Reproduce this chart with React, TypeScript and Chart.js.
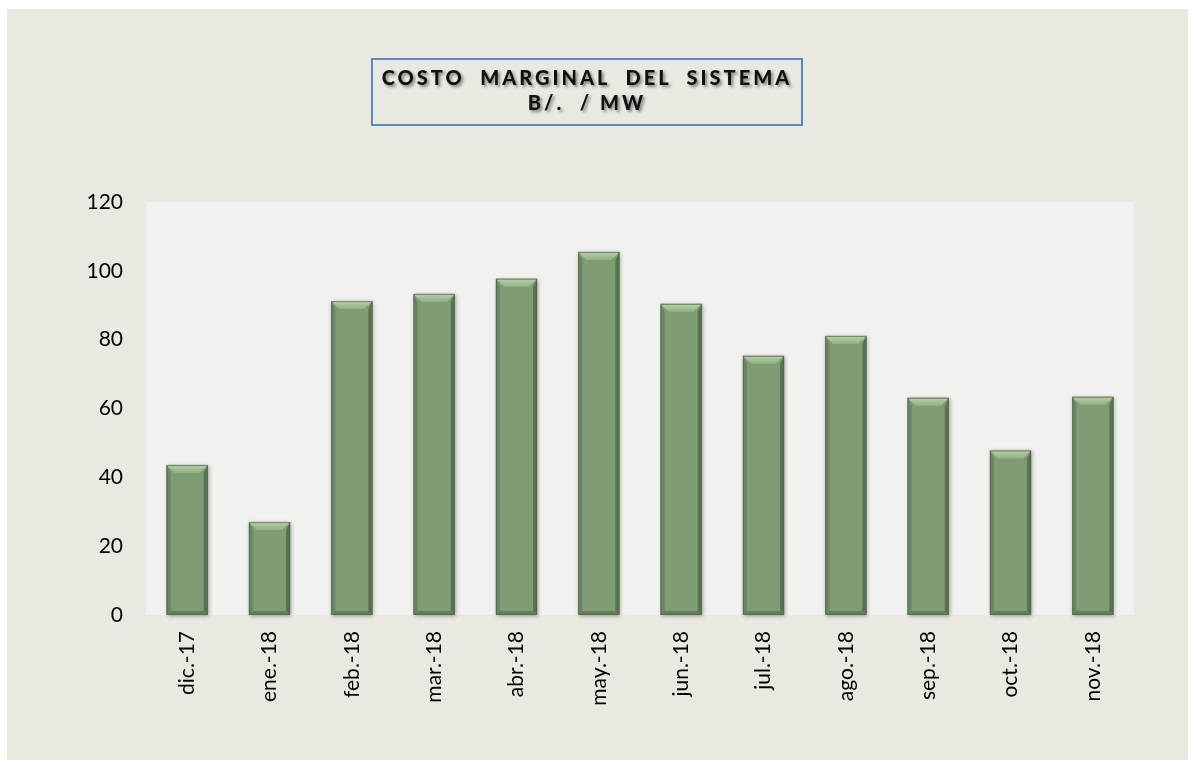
import React, { useEffect, useRef } from "react";
import { Chart, registerables } from "chart.js";

Chart.register(...registerables);

const categories = ["dic.-17", "ene.-18", "feb.-18", "mar.-18", "abr.-18", "may.-18", "jun.-18", "jul.-18", "ago.-18", "sep.-18", "oct.-18", "nov.-18"];
const costoMarginal = [43.6, 27.0, 91.2, 93.3, 97.7, 105.5, 90.4, 75.3, 81.1, 63.1, 47.8, 63.4];
const titleLines = ["COSTO  MARGINAL  DEL  SISTEMA", "B/.  / MW"];
const yMax = 120;
const yStep = 20;

const FONT = "Lato, 'Open Sans', sans-serif";

const plotBgPlugin = {
  id: "plotBg",
  beforeDraw(chart: any) {
    const { ctx, chartArea } = chart;
    ctx.save();
    ctx.fillStyle = "#F1F1F0";
    ctx.fillRect(chartArea.left, chartArea.top, chartArea.right - chartArea.left, chartArea.bottom - chartArea.top);
    ctx.restore();
  },
};

const bevelPlugin = {
  id: "bevel",
  beforeDatasetsDraw(chart: any) {
    const { ctx } = chart;
    const meta = chart.getDatasetMeta(0);
    ctx.save();
    meta.data.forEach((bar: any) => {
      const w = bar.width;
      const left = bar.x - w / 2;
      ctx.shadowColor = "rgba(0,0,0,0.35)";
      ctx.shadowBlur = 4;
      ctx.shadowOffsetX = 1;
      ctx.shadowOffsetY = 1;
      ctx.fillStyle = "#7A9670";
      ctx.fillRect(left, bar.y, w, bar.base - bar.y);
    });
    ctx.restore();
  },
  afterDatasetsDraw(chart: any) {
    const { ctx } = chart;
    const meta = chart.getDatasetMeta(0);
    ctx.save();
    meta.data.forEach((bar: any) => {
      const w = bar.width;
      const left = bar.x - w / 2;
      const right = bar.x + w / 2;
      const top = bar.y;
      const bottom = bar.base;
      const b = 8;
      const s = 4;
      // top bevel
      const g = ctx.createLinearGradient(0, top, 0, top + b);
      g.addColorStop(0, "#B6D1A7");
      g.addColorStop(1, "#92B084");
      ctx.fillStyle = g;
      ctx.beginPath();
      ctx.moveTo(left, top);
      ctx.lineTo(right, top);
      ctx.lineTo(right - b, top + b);
      ctx.lineTo(left + b, top + b);
      ctx.closePath();
      ctx.fill();
      // left bevel
      ctx.fillStyle = "rgba(90,115,82,0.55)";
      ctx.beginPath();
      ctx.moveTo(left, top);
      ctx.lineTo(left + s, top + b);
      ctx.lineTo(left + s, bottom - s);
      ctx.lineTo(left, bottom);
      ctx.closePath();
      ctx.fill();
      // right bevel
      ctx.fillStyle = "rgba(70,92,64,0.65)";
      ctx.beginPath();
      ctx.moveTo(right, top);
      ctx.lineTo(right - s, top + b);
      ctx.lineTo(right - s, bottom - s);
      ctx.lineTo(right, bottom);
      ctx.closePath();
      ctx.fill();
      // bottom bevel
      ctx.fillStyle = "rgba(80,100,72,0.55)";
      ctx.beginPath();
      ctx.moveTo(left, bottom);
      ctx.lineTo(right, bottom);
      ctx.lineTo(right - s, bottom - s);
      ctx.lineTo(left + s, bottom - s);
      ctx.closePath();
      ctx.fill();
      ctx.strokeStyle = "rgba(80,100,72,0.7)";
      ctx.lineWidth = 1;
      ctx.strokeRect(left + 0.5, top + 0.5, w - 1, bottom - top - 1);
    });
    ctx.restore();
  },
};

export default function App() {
  const canvasRef = useRef<HTMLCanvasElement>(null);

  useEffect(() => {
    if (!canvasRef.current) return;
    const chart = new Chart(canvasRef.current, {
      type: "bar",
      data: {
        labels: categories,
        datasets: [
          {
            label: "Costo marginal",
            data: costoMarginal,
            backgroundColor: "#7F9C75",
            borderWidth: 0,
            categoryPercentage: 1,
            barPercentage: 0.5,
          },
        ],
      },
      options: {
        animation: false,
        responsive: false,
        maintainAspectRatio: false,
        layout: { padding: { left: 0, right: 61, top: 202, bottom: 0 } },
        plugins: {
          legend: { display: false },
          title: { display: false },
          tooltip: { enabled: false },
        },
        scales: {
          x: {
            grid: { display: false, drawTicks: false },
            border: { display: false },
            ticks: {
              color: "#000000",
              font: { family: FONT, size: 21 },
              minRotation: 90,
              maxRotation: 90,
              padding: 16,
              autoSkip: false,
            },
            afterFit(scale: any) {
              scale.height = 154;
            },
          },
          y: {
            min: 0,
            max: yMax,
            grid: { display: false, drawTicks: false },
            border: { display: false },
            ticks: {
              stepSize: yStep,
              color: "#000000",
              font: { family: FONT, size: 21 },
              padding: 23,
            },
            afterFit(scale: any) {
              scale.width = 146;
            },
          },
        },
      },
      plugins: [plotBgPlugin, bevelPlugin],
    });
    return () => chart.destroy();
  }, []);

  return (
    <div style={{ position: "absolute", left: 0, top: 0, width: 1195, height: 769, background: "#ffffff" }}>
      <div style={{ position: "absolute", left: 7, top: 9, width: 1181, height: 751, background: "#E9E8E1" }} />
      <canvas ref={canvasRef} width={1195} height={769} style={{ position: "absolute", left: 0, top: 0, width: 1195, height: 769 }} />
      <div
        style={{
          position: "absolute",
          left: 371,
          top: 58,
          width: 428,
          height: 60,
          paddingBottom: 4,
          border: "2px solid #5B87C2",
          boxSizing: "content-box",
          display: "flex",
          flexDirection: "column",
          alignItems: "center",
          justifyContent: "center",
          fontFamily: FONT,
          fontWeight: 900,
          fontSize: 20,
          lineHeight: "25px",
          letterSpacing: "3px",
          color: "#111111",
          textShadow: "2px 2px 3px rgba(0,0,0,0.45)",
          whiteSpace: "pre",
        }}
      >
        {titleLines.map((t) => (
          <div key={t}>{t}</div>
        ))}
      </div>
    </div>
  );
}
